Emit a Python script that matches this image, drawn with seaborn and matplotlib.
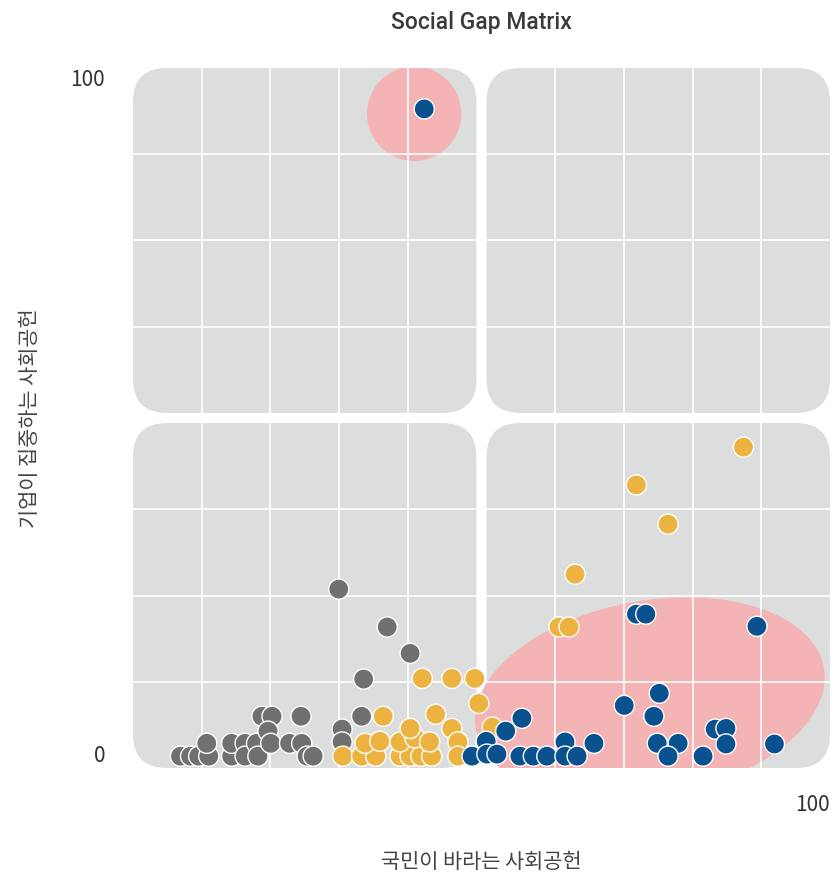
import numpy as np
import pandas as pd
import matplotlib
matplotlib.use('Agg')
import matplotlib.pyplot as plt
import seaborn as sns
from matplotlib.patches import FancyBboxPatch, Ellipse, Circle

# --- data ---
gray_x = [5.3, 6.8, 8.0, 9.5, 9.2, 12.9, 12.9, 14.9, 14.9, 16.6, 16.8, 17.4, 18.9, 18.3,
          18.7, 21.5, 23.2, 23.3, 24.1, 25.0, 29.3, 29.3, 32.2, 32.5, 28.8, 36.0, 39.4]
gray_y = [0, 0, 0, 0, 1.9, 0, 1.9, 1.9, 0, 1.9, 0, 5.9, 5.9, 3.7,
          1.9, 1.9, 5.9, 1.9, 0, 0, 4.0, 2.1, 5.9, 11.4, 24.7, 19.1, 15.2]

yellow_x = [29.4, 32.2, 34.3, 32.7, 34.9, 35.4, 37.9, 39.4, 41.0, 42.6, 37.9, 40.1, 42.3,
            39.4, 43.2, 45.6, 46.5, 46.5, 41.2, 45.6, 49.0, 49.6, 51.6, 61.5, 63.0, 63.9,
            73.0, 77.7, 88.9]
yellow_y = [0, 0, 0, 1.9, 2.2, 5.9, 0, 0, 0, 0, 2.1, 2.7, 2.1,
            4.1, 6.2, 4.1, 2.1, 0, 11.5, 11.5, 11.5, 7.8, 4.3, 19.1, 19.1, 26.9,
            40.1, 34.3, 45.7]

blue_x = [41.5, 73.0, 74.4, 90.9, 76.4, 71.2, 75.6, 56.0, 53.6, 50.7, 48.6, 50.8, 52.3,
          55.7, 57.7, 59.7, 62.4, 62.4, 64.2, 66.7, 76.1, 79.2, 77.7, 82.9, 84.7, 86.3,
          86.3, 93.5]
blue_y = [95.7, 21.0, 21.0, 19.2, 9.3, 7.5, 5.9, 5.6, 3.7, 2.2, 0, 0.3, 0.3,
          0, 0, 0, 2.1, 0, 0, 1.9, 1.9, 1.9, 0, 0, 4.0, 4.1,
          1.8, 1.8]

df = pd.DataFrame({
    'x': gray_x + yellow_x + blue_x,
    'y': gray_y + yellow_y + blue_y,
    'group': ['gray'] * len(gray_x) + ['yellow'] * len(yellow_x) + ['blue'] * len(blue_x),
})
palette = {'gray': '#707070', 'yellow': '#edb340', 'blue': '#0a5190'}

sns.set_theme(style='white')
plt.rcParams['font.family'] = ['Noto Sans CJK KR', 'DejaVu Sans']

fig = plt.figure(figsize=(8.37, 8.75), dpi=100)
ax = fig.add_axes([133 / 837, 107 / 875, 697 / 837, 700 / 875])
lo, hi = -1.75, 101.75
ax.set_xlim(lo, hi)
ax.set_ylim(lo, hi)
ax.axis('off')

# quadrant panels with rounded corners
gap = 0.75
quads = [(lo, 50 - gap), (50 + gap, hi)]
for x0, x1 in quads:
    for y0, y1 in quads:
        ax.add_patch(FancyBboxPatch((x0 + 5, y0 + 5), (x1 - x0) - 10, (y1 - y0) - 10,
                                    boxstyle='round,pad=5', fc='#dcdddd', ec='none',
                                    zorder=0, clip_on=False))

# highlight areas
ax.add_patch(Circle((40, 95), 7, fc='#f4b3b4', ec='none', zorder=1))
ax.add_patch(Ellipse((75, 8.5), 52.5, 29, angle=10, fc='#f4b3b4', ec='none', zorder=1))

# white grid lines inside each panel
for x0, x1 in quads:
    for y0, y1 in quads:
        for k in range(1, 5):
            gx = x0 + (x1 - x0) * k / 5
            ax.plot([gx, gx], [y0, y1], color='white', lw=1.2, zorder=2)
        for k in range(1, 4):
            gy = y0 + (y1 - y0) * k / 4
            ax.plot([x0, x1], [gy, gy], color='white', lw=1.2, zorder=2)

sns.scatterplot(data=df, x='x', y='y', hue='group', palette=palette, s=210,
                edgecolor='white', linewidth=1, legend=False, ax=ax, zorder=3)

txt = '#333333'
ax.text(-0.04, 100, '100', transform=ax.get_yaxis_transform(), ha='right', va='center',
        fontsize=15, color=txt, fontweight='light')
ax.text(-0.04, 0, '0', transform=ax.get_yaxis_transform(), ha='right', va='center',
        fontsize=15, color=txt, fontweight='light')
ax.text(1.0, -0.053, '100', transform=ax.transAxes, ha='right', va='center',
        fontsize=15, color=txt, fontweight='light')

fig.text(481 / 837, 1 - 22 / 875, 'Social Gap Matrix', ha='center', va='center',
         fontsize=16.5, fontweight='medium', family=['Roboto', 'DejaVu Sans'],
         color='#3a3a3a')
fig.text(481 / 837, 1 - 862 / 875, '국민이 바라는 사회공헌', ha='center', va='center',
         fontsize=15, color='#444444')
fig.text(30 / 837, 1 - 418 / 875, '기업이 집중하는 사회공헌', ha='center', va='center',
         rotation=90, fontsize=15, color='#444444')

fig.savefig('out.png', dpi=100, facecolor='white')
